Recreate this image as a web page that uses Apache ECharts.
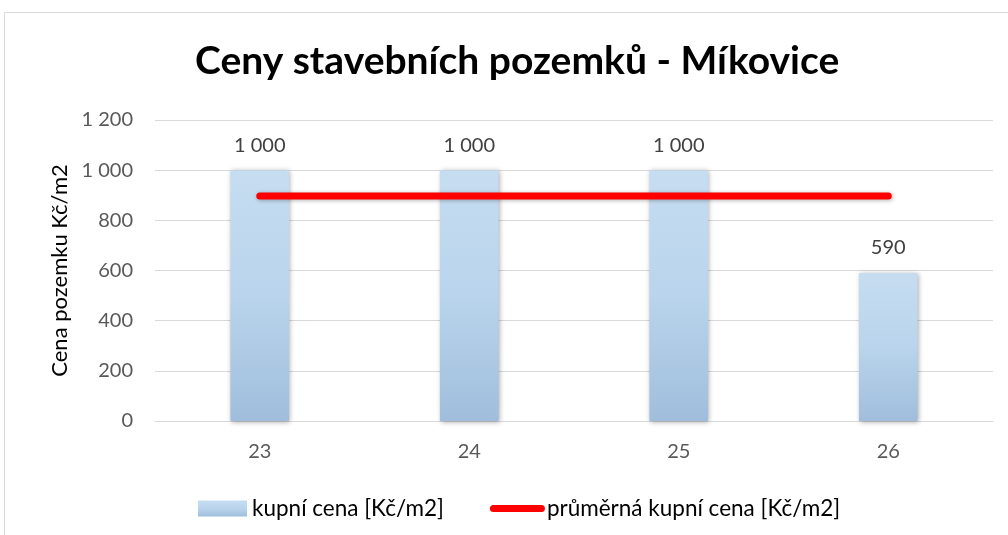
<!DOCTYPE html>
<html>
<head>
<meta charset="utf-8">
<script src="https://cdn.jsdelivr.net/npm/echarts@6/dist/echarts.min.js"></script>
<style>
html,body{margin:0;padding:0;background:#fff;overflow:hidden;}
#frame{position:absolute;left:4px;top:12px;width:1100px;height:600px;border:1px solid #d9d9d9;box-sizing:border-box;}
#chart{position:absolute;left:0;top:0;width:1008px;height:535px;}
</style>
</head>
<body>
<div id="frame"></div>
<div id="chart"></div>
<script>
const categories = ['23', '24', '25', '26'];
const priceValues = [1000, 1000, 1000, 590];
const avgValues = [897.5, 897.5, 897.5, 897.5];
const yTicks = [0, 200, 400, 600, 800, 1000, 1200];

const fmt = n => String(n).replace(/\B(?=(\d{3})+(?!\d))/g, ' ');
const FONT = 'Lato';

const chart = echarts.init(document.getElementById('chart'));
chart.setOption({
  backgroundColor: 'transparent',
  animation: false,
  title: {
    text: 'Ceny stavebních pozemků - Míkovice',
    left: 190,
    top: 37,
    textStyle: { fontFamily: FONT, fontWeight: 'bold', fontSize: 39, color: '#000' }
  },
  grid: { left: 155, right: 15, top: 120, bottom: 114 },
  legend: {
    bottom: 10,
    left: 193,
    itemWidth: 55,
    itemHeight: 16,
    itemGap: 46,
    symbolKeepAspect: true,
    textStyle: { fontFamily: FONT, fontSize: 22.5, color: '#000', padding: [0, 0, 0, -3] },
    data: [
      { name: 'kupní cena [Kč/m2]', icon: 'path://M0,0 H49 V16 H0 Z' },
      { name: 'průměrná kupní cena [Kč/m2]', icon: 'path://M3.5,0 H51.5 A3.5,3.5 0 0 1 51.5,7 H3.5 A3.5,3.5 0 0 1 3.5,0 Z', itemStyle: { color: '#ff0000' } }
    ]
  },
  xAxis: {
    type: 'category',
    data: categories,
    axisLine: { lineStyle: { color: '#d9d9d9', width: 1 } },
    axisTick: { show: false },
    axisLabel: { fontFamily: FONT, fontSize: 20, color: '#595959', margin: 21 }
  },
  yAxis: {
    type: 'value',
    min: yTicks[0],
    max: yTicks[yTicks.length - 1],
    interval: 200,
    name: 'Cena pozemku Kč/m2',
    nameLocation: 'middle',
    nameGap: 84,
    nameTextStyle: { fontFamily: FONT, fontSize: 22, color: '#000' },
    axisLine: { show: false },
    axisTick: { show: false },
    splitLine: { lineStyle: { color: '#d9d9d9', width: 1 } },
    axisLabel: { fontFamily: FONT, fontSize: 20, color: '#595959', margin: 22, formatter: v => fmt(v) }
  },
  series: [
    {
      name: 'kupní cena [Kč/m2]',
      type: 'bar',
      data: priceValues,
      barWidth: '28%',
      itemStyle: {
        color: new echarts.graphic.LinearGradient(0, 0, 0, 1, [
          { offset: 0, color: '#c6ddf1' },
          { offset: 0.5, color: '#b9d4ec' },
          { offset: 1, color: '#a0bedc' }
        ]),
        shadowColor: 'rgba(0,0,0,0.35)',
        shadowBlur: 5,
        shadowOffsetX: 1,
        shadowOffsetY: 1
      },
      label: {
        show: true,
        position: 'top',
        distance: 15,
        fontFamily: FONT,
        fontSize: 20,
        color: '#404040',
        formatter: p => fmt(p.value)
      }
    },
    {
      name: 'průměrná kupní cena [Kč/m2]',
      type: 'line',
      data: avgValues,
      symbol: 'none',
      lineStyle: {
        color: '#ff0000',
        width: 7,
        cap: 'round',
        shadowColor: 'rgba(0,0,0,0.3)',
        shadowBlur: 4,
        shadowOffsetX: 1,
        shadowOffsetY: 1
      },
      itemStyle: { color: '#ff0000' }
    }
  ]
});
</script>
</body>
</html>
